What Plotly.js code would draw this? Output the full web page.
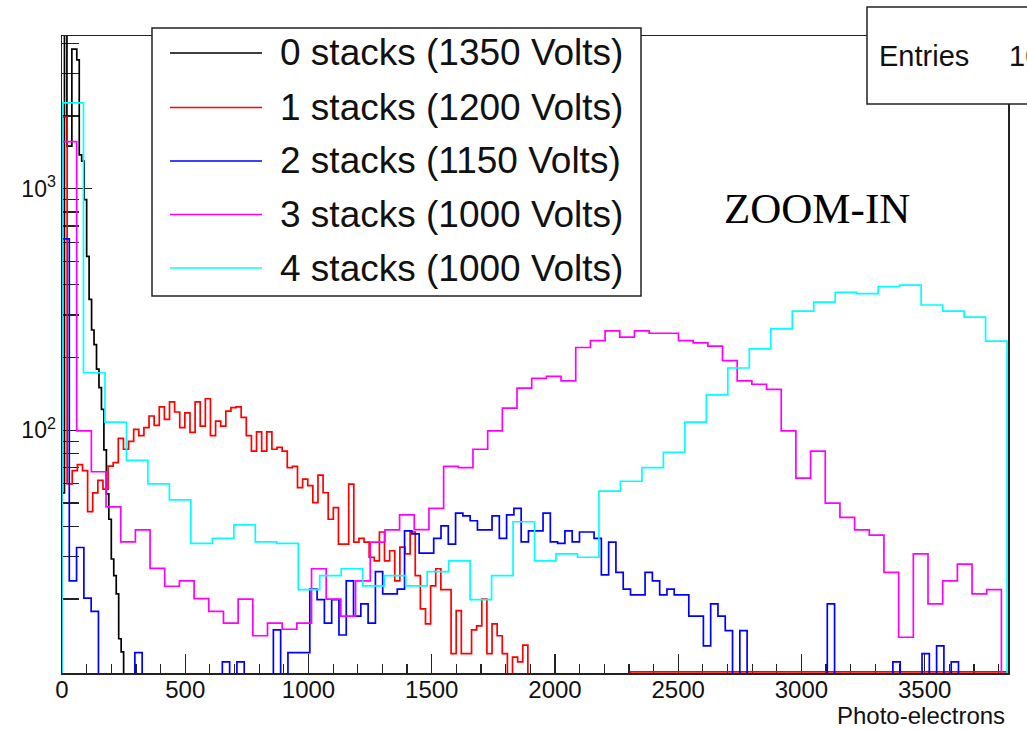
<!DOCTYPE html>
<html>
<head>
<meta charset="utf-8">
<script src="https://cdn.plot.ly/plotly-3.0.1.min.js"></script>
<style>html,body{margin:0;padding:0;background:#fff;overflow:hidden}#chart{width:1027px;height:730px}</style>
</head>
<body>
<div id="chart"></div>
<script>
// ---- Data (counts per bin) ----
const seriesNames = ["0 stacks (1350 Volts)", "1 stacks (1200 Volts)", "2 stacks (1150 Volts)", "3 stacks (1000 Volts)", "4 stacks (1000 Volts)"];
const seriesColors = ["#000000", "#ff0000", "#0000ff", "#ff00ff", "#00ffff"];

// bin widths (photo-electrons)
const binWidth0 = 10;
const binWidth1 = 20.77;
const binWidth2 = 29.57;
const binWidth3 = 59.55;
const binWidth4 = 87.14;

const counts0 = [55, 6000, 1500, 1500, 3780, 3780, 3410, 1380, 1300, 900, 524, 348, 260, 226, 179, 150, 122, 83, 54.5, 42.8, 29.3, 25, 21, 13.7, 12.1, 0];

const counts1 = [1980, 60, 68, 72, 68, 46, 55, 62, 57, 71, 73.5, 92.5, 83.4, 90,
  100.8, 95, 102.5, 114.5, 104.8, 125, 111, 131, 119, 102.5, 118, 98, 131, 104, 135, 95, 109, 104, 120, 124, 125, 113, 95, 82, 98.5, 82, 98.5, 83.4, 84.9, 82, 70, 70.8, 57.9,
  62.8, 59, 50.2, 65.2, 55.1, 42.8, 47.8, 33.8, 33.8, 59.8, 34.4, 35.7, 34.4, 29.8, 28.8, 37.9, 28.8, 31.7, 23.8, 32.8, 30.8, 37.9, 25, 18.2, 15.8, 22.7, 26.7, 21.9, 21.9, 11.9, 17.9, 11.9, 11.9, 14.9, 15.5, 20, 11.9, 15.8, 14.1, 11.9, 0, 11.5, 11, 12.9,
  0, 0, 0, 0, 0, 0, 0, 0, 0, 0, 0, 0, 0, 0, 0, 0, 0, 0, 0, 0,
  10, 10, 10, 10, 10, 10, 10, 10, 10, 10,
  10, 10, 10, 10, 10, 10, 10, 10, 10, 10,
  10, 10, 10, 10, 10, 10, 10, 10, 10, 10,
  10, 10, 10, 10, 10, 10, 10, 10, 10, 10,
  10, 10, 10, 10, 10, 10, 10, 10, 10, 10,
  10, 10, 10, 10, 10, 10, 10, 10, 10, 10,
  10, 10, 10, 10, 10, 10, 10, 10, 10, 10,
  10, 10, 10, 10];

const counts2 = [620, 23.8, 32.7, 20.2, 17.8, 0, 0, 0, 0, 0,
  12, 0, 0, 0, 0, 0, 0, 0, 0, 0,
  0, 0, 11, 0, 11, 0, 0, 0, 0, 14.9,
  0, 12, 12, 12, 22, 19.9, 15.9, 19.9, 14.2, 23.8,
  17, 19.1, 15.9, 26, 21, 21, 22, 38.3, 37.2, 31,
  31, 35.7, 40.2, 33.8, 45.4, 44.2, 42.2, 38.7, 38.7, 44.2,
  35.7, 44.6, 47.5, 34.5, 38.3, 38.3, 45.4, 34.5, 34, 38.3,
  34.5, 37.9, 37.9, 35.7, 25.2, 34.4, 25.8, 22, 20.8, 20.8,
  25.8, 23.8, 20.8, 22, 20.8, 20.8, 17, 17, 12.8, 19.1,
  17, 14.8, 0, 14.8, 0, 0, 0, 0, 0, 0,
  0, 0, 0, 0, 0, 19.1, 0, 0, 0, 0,
  0, 0, 0, 0, 11, 0, 0, 0, 11.9, 0,
  12.8, 0, 11, 0, 0, 0, 0, 0, 0, 0];

const counts3 = [1567, 99.3, 67.3, 48.2, 34.5, 38.7, 26.8, 22.6, 23.8, 20.1,
  17.8, 15.9, 20, 14.1, 15.9, 15, 15.9, 26.7, 20, 17,
  23.8, 34.4, 38.7, 44.6, 38.8, 47.5, 70.8, 70, 83.4, 99.3,
  123.5, 149.5, 164, 167, 160, 220, 235, 258, 243, 258,
  252, 252, 235, 230, 223, 194, 160, 155, 147.6, 99.3,
  63.4, 82, 49.9, 43.6, 38.7, 36.8, 25.8, 13.9, 30.8, 19.1,
  23.8, 27.9, 21, 21.9, 0];

const counts4 = [2265, 173, 108, 75, 60, 51.5, 34, 35.7, 40.6, 34.5,
  34, 21.9, 25, 26.7, 22.7, 25, 22.7, 26, 28.8, 19.9,
  25, 41.8, 28.8, 30.8, 29.8, 56, 61.5, 70, 81, 108,
  140, 181, 217, 263, 311, 339, 372, 368, 393, 399,
  330, 311, 294, 234];

const xTickVals = [0, 500, 1000, 1500, 2000, 2500, 3000, 3500];
const yTickVals = [100, 1000];
const yTickText = ["10<sup>2</sup>", "10<sup>3</sup>"];
const yMinorVals = [20, 30, 40, 50, 60, 70, 80, 90, 200, 300, 400, 500, 600, 700, 800, 900, 2000, 3000, 4000];

const xAxisTitle = "Photo-electrons";
const annotationText = "ZOOM-IN";
const statLabel = "Entries";
const statValue = "10000";

// ---- Build histogram outlines ----
const FLOOR = 0.1; // empty bins fall below the log axis
function histTrace(vals, w, color) {
  const x = [0], y = [FLOOR];
  for (let i = 0; i < vals.length; i++) {
    x.push(i * w);
    y.push(vals[i] > 0 ? vals[i] : FLOOR);
  }
  x.push(vals.length * w);
  y.push(FLOOR);
  return {type: "scatter", mode: "lines", x: x, y: y, showlegend: false, hoverinfo: "skip",
          line: {shape: "hv", color: color, width: 1.7}};
}

const allCounts = [counts0, counts1, counts2, counts3, counts4];
const allWidths = [binWidth0, binWidth1, binWidth2, binWidth3, binWidth4];
const traces = allCounts.map((c, i) => histTrace(c, allWidths[i], seriesColors[i]));

// ---- Layout geometry (pixels -> paper) ----
const L = 62, R = 1008, T = 36, B = 673;
const px = v => (v - L) / (R - L);
const py = v => (B - v) / (B - T);

const shapes = [];
const annotations = [];

// legend box
shapes.push({type: "rect", xref: "paper", yref: "paper", x0: px(152), x1: px(641), y0: py(296), y1: py(28),
  fillcolor: "#ffffff", line: {color: "#222", width: 1.5}, layer: "above"});
const legendY = [53, 107.5, 161, 214.5, 268];
seriesNames.forEach((n, i) => {
  shapes.push({type: "line", xref: "paper", yref: "paper", x0: px(170), x1: px(262), y0: py(legendY[i]), y1: py(legendY[i]),
    line: {color: seriesColors[i], width: 1.6}, layer: "above"});
  annotations.push({xref: "paper", yref: "paper", x: px(278), y: py(legendY[i]), xanchor: "left", yanchor: "middle",
    text: n, showarrow: false, font: {family: "Liberation Sans, Arial, sans-serif", size: 37, color: "#111"}});
});

// stats box
shapes.push({type: "rect", xref: "paper", yref: "paper", x0: px(867), x1: px(1060), y0: py(104), y1: py(7),
  fillcolor: "#ffffff", line: {color: "#222", width: 1.5}, layer: "above"});
annotations.push({xref: "paper", yref: "paper", x: px(877), y: py(56), xanchor: "left", yanchor: "middle",
  text: statLabel, showarrow: false, font: {family: "Liberation Sans, Arial, sans-serif", size: 29, color: "#111"}});
annotations.push({xref: "paper", yref: "paper", x: px(1007), y: py(56), xanchor: "left", yanchor: "middle",
  text: statValue, showarrow: false, font: {family: "Liberation Sans, Arial, sans-serif", size: 29, color: "#111"}});

// ZOOM-IN label
annotations.push({xref: "paper", yref: "paper", x: px(817), y: py(208), xanchor: "center", yanchor: "middle",
  text: annotationText, showarrow: false, font: {family: "Liberation Serif, Times New Roman, serif", size: 43, color: "#000"}});

// x axis title (right aligned, ROOT style)
annotations.push({xref: "paper", yref: "paper", x: px(1007), y: py(716), xanchor: "right", yanchor: "middle",
  text: xAxisTitle, showarrow: false, font: {family: "Liberation Sans, Arial, sans-serif", size: 24, color: "#111"}});

const layout = {
  width: 1027, height: 730,
  margin: {l: L, r: 1027 - R, t: T, b: 730 - B, pad: 0},
  paper_bgcolor: "#ffffff", plot_bgcolor: "#ffffff",
  showlegend: false,
  xaxis: {
    range: [0, 3838], showgrid: false, zeroline: false,
    showline: true, mirror: true, linecolor: "#222", linewidth: 1.5, layer: "below traces",
    tickmode: "array", tickvals: xTickVals, ticks: "inside", ticklen: 19, tickwidth: 1.2, tickcolor: "#222",
    minor: {dtick: 100, tick0: 0, ticks: "inside", ticklen: 9, tickwidth: 1.2, tickcolor: "#222"},
    tickfont: {family: "Liberation Sans, Arial, sans-serif", size: 24, color: "#111"},
    ticklabelstandoff: -5
  },
  yaxis: {
    type: "log", range: [0.995, 3.632], showgrid: false, zeroline: false,
    showline: true, mirror: true, linecolor: "#222", linewidth: 1.5, layer: "below traces",
    tickmode: "array", tickvals: yTickVals, ticktext: yTickText, ticks: "inside", ticklen: 30, tickwidth: 1.2, tickcolor: "#222",
    minor: {tickmode: "array", tickvals: yMinorVals, ticks: "inside", ticklen: 17, tickwidth: 1.2, tickcolor: "#222"},
    tickfont: {family: "Liberation Sans, Arial, sans-serif", size: 23, color: "#111"}
  },
  shapes: shapes,
  annotations: annotations
};

Plotly.newPlot("chart", traces, layout, {displayModeBar: false, staticPlot: true});
</script>
</body>
</html>
